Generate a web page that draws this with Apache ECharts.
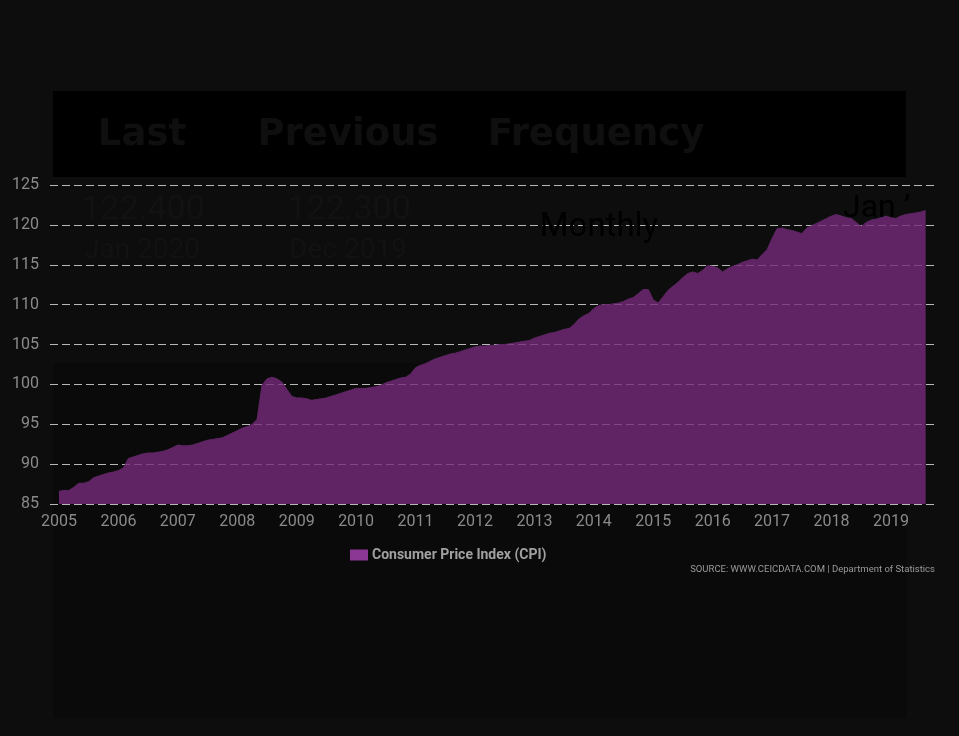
<!DOCTYPE html>
<html>
<head>
<meta charset="utf-8">
<script src="https://cdn.jsdelivr.net/npm/echarts@6/dist/echarts.min.js"></script>
<style>
html, body { margin: 0; padding: 0; background: #0d0d0d; }
#chart { width: 959px; height: 736px; }
</style>
</head>
<body>
<div id="chart"></div>
<script>
// ---- Data (monthly CPI, starting Jan 2005) ----
const startYear = 2005;
const cpi2005 = [86.6, 86.7, 86.7, 87.1, 87.6, 87.6, 87.8, 88.3, 88.5, 88.7, 88.9, 89.0];
const cpi2006 = [89.2, 89.5, 90.7, 90.9, 91.1, 91.3, 91.4, 91.4, 91.5, 91.6, 91.8, 92.1];
const cpi2007 = [92.4, 92.3, 92.3, 92.4, 92.6, 92.8, 93.0, 93.1, 93.2, 93.3, 93.6, 93.9];
const cpi2008 = [94.2, 94.5, 94.7, 95.0, 95.6, 99.9, 100.7, 100.9, 100.7, 100.3, 99.4, 98.5];
const cpi2009 = [98.3, 98.3, 98.2, 98.0, 98.1, 98.2, 98.3, 98.5, 98.7, 98.9, 99.1, 99.3];
const cpi2010 = [99.5, 99.5, 99.5, 99.6, 99.7, 99.9, 100.2, 100.4, 100.6, 100.8, 100.9, 101.3];
const cpi2011 = [102.1, 102.4, 102.6, 102.9, 103.2, 103.4, 103.6, 103.8, 103.9, 104.1, 104.3, 104.5];
const cpi2012 = [104.7, 104.8, 104.8, 104.9, 104.9, 105.0, 105.0, 105.1, 105.2, 105.3, 105.4, 105.5];
const cpi2013 = [105.8, 106.0, 106.2, 106.4, 106.5, 106.7, 106.9, 107.0, 107.5, 108.2, 108.6, 108.9];
const cpi2014 = [109.5, 109.9, 110.0, 110.0, 110.1, 110.2, 110.4, 110.7, 110.9, 111.4, 111.9, 111.9];
const cpi2015 = [110.6, 110.2, 111.0, 111.8, 112.3, 112.8, 113.4, 113.9, 114.1, 113.9, 114.3, 114.9];
const cpi2016 = [114.8, 114.6, 114.1, 114.5, 114.8, 115.0, 115.3, 115.5, 115.7, 115.6, 116.3, 116.9];
const cpi2017 = [118.3, 119.5, 119.6, 119.4, 119.3, 119.1, 118.9, 119.6, 119.9, 120.2, 120.5, 120.8];
const cpi2018 = [121.1, 121.3, 121.1, 120.9, 120.8, 120.3, 119.8, 120.3, 120.6, 120.7, 120.9, 121.1];
const cpi2019 = [120.9, 120.8, 121.1, 121.3, 121.4, 121.5, 121.6, 121.8];

const yearTicks = [2005, 2006, 2007, 2008, 2009, 2010, 2011, 2012, 2013, 2014, 2015, 2016, 2017, 2018, 2019];
const yTickValues = [85, 90, 95, 100, 105, 110, 115, 120, 125];
const seriesName = 'Consumer Price Index (CPI)';
const headerLabels = ['Last', 'Previous', 'Frequency'];
const lastValue = '122.400';
const lastDate = 'Jan 2020';
const prevValue = '122.300';
const prevDate = 'Dec 2019';
const frequencyText = 'Monthly';
const cutDateText = 'Jan \u2019';
const sourceText = 'SOURCE: WWW.CEICDATA.COM | Department of Statistics';

// ---- Build series points ----
const yearly = [cpi2005, cpi2006, cpi2007, cpi2008, cpi2009, cpi2010, cpi2011, cpi2012,
                cpi2013, cpi2014, cpi2015, cpi2016, cpi2017, cpi2018, cpi2019];
const points = [];
yearly.forEach((arr, yi) => {
  arr.forEach((v, mi) => points.push([startYear + yi + mi / 12, v]));
});

const chart = echarts.init(document.getElementById('chart'), null, { renderer: 'canvas' });

const headerFont = 'bold 37px "DejaVu Sans"';
const dimText = '#121212';
const option = {
  animation: false,
  backgroundColor: '#0d0d0d',
  grid: { left: 50, right: 24, top: 185, bottom: 232, containLabel: false },
  xAxis: {
    type: 'value',
    min: 2004.849,
    max: 2019.741,
    axisLine: { show: false },
    axisTick: { show: false },
    splitLine: { show: false },
    axisLabel: {
      customValues: yearTicks,
      formatter: v => String(Math.round(v)),
      color: '#8a8a8a',
      fontSize: 16,
      fontFamily: 'Roboto',
      margin: 10
    }
  },
  yAxis: {
    type: 'value',
    min: yTickValues[0],
    max: yTickValues[yTickValues.length - 1],
    interval: 5,
    axisLine: { show: false },
    axisTick: { show: false },
    axisLabel: { color: '#8a8a8a', fontSize: 16, fontFamily: 'Roboto', margin: 11 },
    splitLine: { lineStyle: { type: [8, 4], color: '#b8b8b8', width: 1 } }
  },
  legend: {
    left: 345,
    top: 543,
    icon: 'rect',
    itemWidth: 18,
    itemHeight: 11,
    itemGap: 5,
    textStyle: { color: '#a0a0a0', fontSize: 14, fontWeight: 'bold', fontFamily: 'Roboto', padding: [0, 0, 0, -1] },
    data: [seriesName]
  },
  series: [{
    name: seriesName,
    type: 'line',
    data: points,
    showSymbol: false,
    color: '#8b3794',
    lineStyle: { width: 1, color: '#5e2663' },
    areaStyle: { color: '#752b7b', opacity: 0.8 },
    z: 2
  }],
  graphic: [
    { type: 'rect', z: -1, shape: { x: 53, y: 363, width: 854, height: 355 }, style: { fill: '#0a0a0a' } },
    { type: 'rect', z: -1, shape: { x: 53, y: 91, width: 853, height: 86 }, style: { fill: '#000000' } },
    { type: 'text', z: 100, x: 142, y: 135, style: { text: headerLabels[0], font: headerFont, fill: '#0f0f0f', textAlign: 'center', textVerticalAlign: 'middle' } },
    { type: 'text', z: 100, x: 348, y: 135, style: { text: headerLabels[1], font: headerFont, fill: '#0f0f0f', textAlign: 'center', textVerticalAlign: 'middle' } },
    { type: 'text', z: 100, x: 596, y: 135, style: { text: headerLabels[2], font: headerFont, fill: '#0f0f0f', textAlign: 'center', textVerticalAlign: 'middle' } },
    { type: 'text', z: 100, x: 143, y: 210, style: { text: lastValue, font: '34px Roboto', fill: dimText, textAlign: 'center', textVerticalAlign: 'middle' } },
    { type: 'text', z: 100, x: 142, y: 251, style: { text: lastDate, font: '28px Roboto', fill: dimText, textAlign: 'center', textVerticalAlign: 'middle' } },
    { type: 'text', z: 100, x: 349, y: 210, style: { text: prevValue, font: '34px Roboto', fill: dimText, textAlign: 'center', textVerticalAlign: 'middle' } },
    { type: 'text', z: 100, x: 348, y: 251, style: { text: prevDate, font: '28px Roboto', fill: dimText, textAlign: 'center', textVerticalAlign: 'middle' } },
    { type: 'text', z: 100, x: 599, y: 228, style: { text: frequencyText, font: '33px Roboto', fill: '#000000', textAlign: 'center', textVerticalAlign: 'middle' } },
    { type: 'text', z: 100, x: 843, y: 209, style: { text: cutDateText, font: '32px Roboto', fill: '#000000', textAlign: 'left', textVerticalAlign: 'middle' } },
    { type: 'text', z: 100, x: 935, y: 570, style: { text: sourceText, font: '9.5px Roboto', fill: '#9a9a9a', textAlign: 'right', textVerticalAlign: 'middle' } }
  ]
};
chart.setOption(option);
</script>
</body>
</html>
